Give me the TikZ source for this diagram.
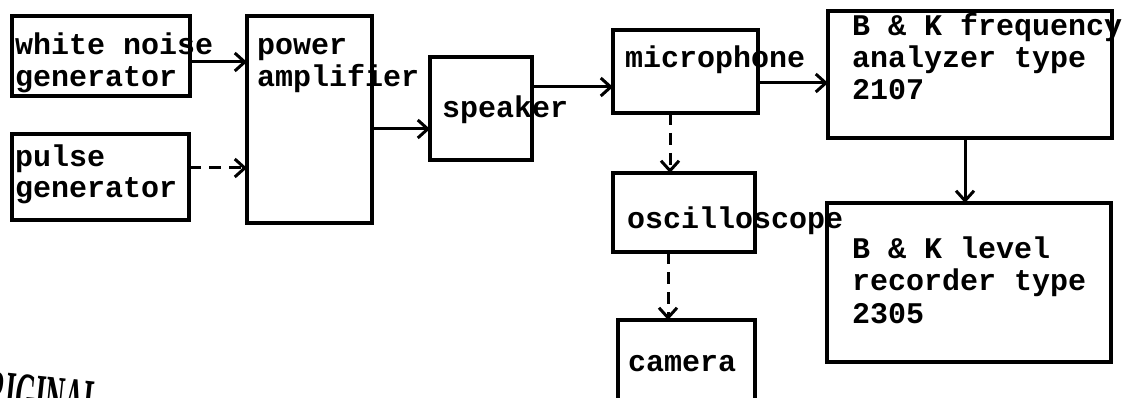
\documentclass[tikz,border=0pt]{standalone}
\usepackage{fontspec}
\newfontfamily\typew{Liberation Mono}[BoldFont={* Bold}]
\newfontfamily\stampfont{Liberation Serif}
\usetikzlibrary{fit,arrows.meta}
\tikzset{
  box/.style={draw, line width=3.4pt, inner sep=0pt, outer sep=0pt},
  lbl/.style={inner sep=0pt, outer sep=0pt, anchor=base west, font=\typew\bfseries\fontsize{30}{32}\selectfont},
  arr/.style={line width=3pt, -{Straight Barb[length=10pt,width=18pt]}},
  darr/.style={arr, dash pattern=on 12pt off 8pt},
}
\begin{document}
\begin{tikzpicture}[x=1pt,y=-1pt]
\useasboundingbox (0,0) rectangle (1134,398);
\clip (0,0) rectangle (1134,398);
% boxes
\node[box, fit={(12,16) (190,96)}] (wn) {};
\node[box, fit={(12,134) (189,220)}] (pg) {};
\node[box, fit={(247,16) (372,223)}] (pa) {};
\node[box, fit={(430,57) (532,160)}] (sp) {};
\node[box, fit={(613,30) (758,113)}] (mic) {};
\node[box, fit={(613,173) (755,252)}] (osc) {};
\node[box, fit={(618,320) (755,430)}] (cam) {};
\node[box, fit={(828,11) (1112,138)}] (fa) {};
\node[box, fit={(827,203) (1111,362)}] (lr) {};
% labels
\node[lbl] (t1) at (15,55) {white noise};
\node[lbl] (t2) at (15,87) {generator};
\node[lbl] (t3) at (15,167) {pulse};
\node[lbl] (t4) at (15,197) {generator};
\node[lbl] (t5) at (257,55) {power};
\node[lbl] (t6) at (257,87) {amplifier};
\node[lbl] (t7) at (442,118) {speaker};
\node[lbl] (t8) at (625,68) {microphone};
\node[lbl] (t9) at (627,228) {oscilloscope};
\node[lbl] (t10) at (628,371) {camera};
\node[lbl] (t11) at (852,36) {B \& K frequency};
\node[lbl] (t12) at (852,68) {analyzer type};
\node[lbl] (t13) at (852,100) {2107};
\node[lbl] (t14) at (852,258) {B \& K level};
\node[lbl] (t15) at (852,290) {recorder type};
\node[lbl] (t16) at (852,323) {2305};
% stamp (partly outside the picture, as in the scan)
\node[inner sep=0pt, anchor=north west, rotate=-6, xscale=0.42,
      font=\stampfont\bfseries\fontsize{62}{62}\selectfont] (stamp) at (-31,368) {ORIGINAL};
% connectors
\draw[arr] ([yshift=-6pt]wn.east) -- ([yshift=-6pt]wn.east -| pa.west);
\draw[darr] ([yshift=9pt]pg.east) -- ([yshift=9pt]pg.east -| pa.west);
\draw[arr] ([yshift=-9.5pt]pa.east) -- ([yshift=-9.5pt]pa.east -| sp.west);
\draw[arr] ([yshift=21.5pt]sp.east) -- ([yshift=21.5pt]sp.east -| mic.west);
\draw[arr] ([yshift=-11.5pt]mic.east) -- ([yshift=-11.5pt]mic.east -| fa.west);
\draw[darr] ([xshift=-15.5pt]mic.south) -- ([xshift=-15.5pt]mic.south |- osc.north);
\draw[darr] ([xshift=-16pt]osc.south) -- ([xshift=-16pt]osc.south |- cam.north);
\draw[arr] ([xshift=-5pt]fa.south) -- ([xshift=-5pt]fa.south |- lr.north);
\end{tikzpicture}
\end{document}
